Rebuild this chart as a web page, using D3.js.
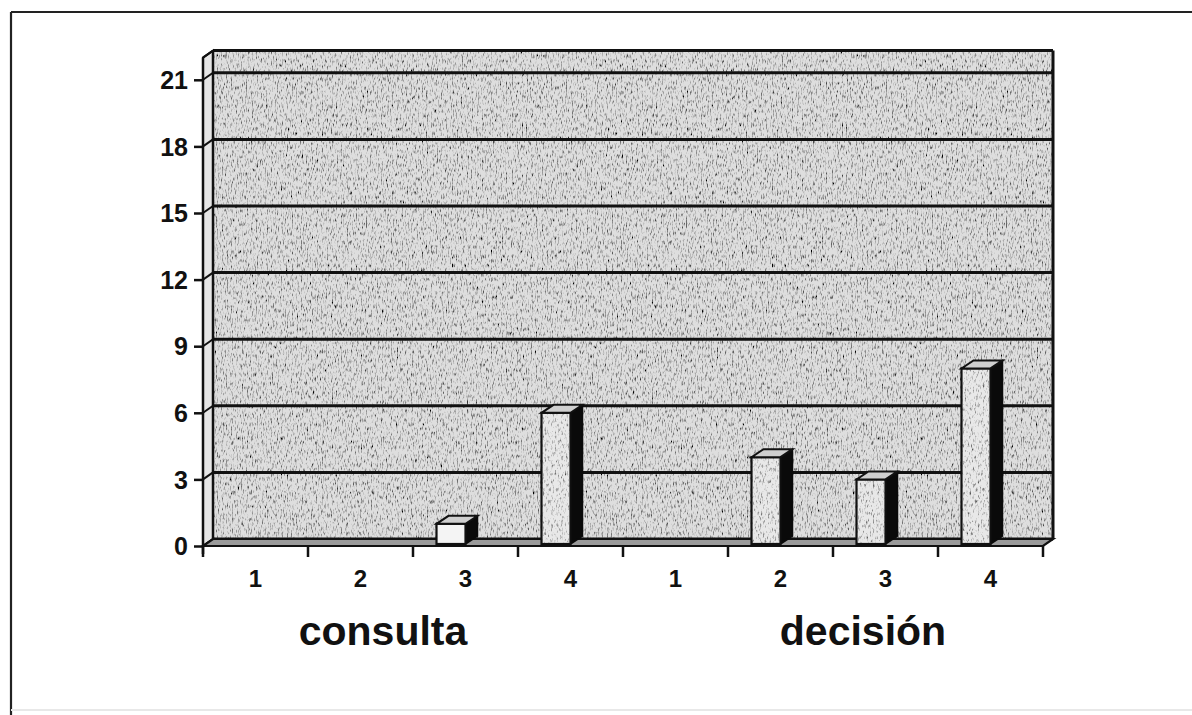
<!DOCTYPE html>
<html>
<head>
<meta charset="utf-8">
<script src="https://cdn.jsdelivr.net/npm/d3@7"></script>
<style>
  html, body { margin: 0; padding: 0; background: #fff; }
  svg { display: block; }
  text { font-family: "Liberation Sans", Arial, sans-serif; font-weight: bold; fill: #111; }
</style>
</head>
<body>
<svg id="chart" width="1192" height="715"></svg>
<script>
// Response counts per option, grouped by participation type
const groups = ["consulta", "decisión"];
const categories = ["1", "2", "3", "4"];
const consulta = [0, 0, 1, 6];
const decision = [0, 4, 3, 8];
const yTicks = [0, 3, 6, 9, 12, 15, 18, 21];
const yMax = 22;

const seriesByGroup = { "consulta": consulta, "decisión": decision };

// Flattened rows: one per (group, category)
const rows = [];
groups.forEach(g => categories.forEach((c, i) => rows.push({ group: g, cat: c, key: g + "-" + c, value: seriesByGroup[g][i] })));

const svg = d3.select("#chart");

// Plot geometry (front plane of the 3D box)
const left = 203, right = 1043, bottom = 546;
const depthX = 10, depthY = -7;      // wall depth offset
const barDX = 12, barDY = -8;        // bar side depth

const x = d3.scaleBand().domain(rows.map(r => r.key)).range([left, right]).padding(0);
const y = d3.scaleLinear().domain([0, yMax]).range([bottom, bottom - yMax * 22.2]);

// Grainy gray fill used on walls and bars
const defs = svg.append("defs");
function grain(id, seed, freq, gain, bias) {
  const f = defs.append("filter").attr("id", id)
    .attr("x", 0).attr("y", 0).attr("width", "100%").attr("height", "100%")
    .attr("filterUnits", "objectBoundingBox");
  f.append("feTurbulence").attr("type", "fractalNoise").attr("baseFrequency", freq)
    .attr("numOctaves", 2).attr("seed", seed).attr("result", "n");
  f.append("feColorMatrix").attr("in", "n").attr("type", "matrix")
    .attr("values", `0 0 0 0 0  0 0 0 0 0  0 0 0 0 0  ${-gain} 0 0 0 ${bias}`).attr("result", "spk");
  f.append("feComposite").attr("in", "spk").attr("in2", "SourceGraphic").attr("operator", "in").attr("result", "spk2");
  const m = f.append("feMerge");
  m.append("feMergeNode").attr("in", "SourceGraphic");
  m.append("feMergeNode").attr("in", "spk2");
}
grain("wallGrain", 4, "0.8 0.22", 3.0, 1.5);
grain("barGrain", 9, "0.6 0.25", 2.6, 1.25);

// Outer frame
svg.append("line").attr("x1", 11).attr("y1", 12).attr("x2", 1192).attr("y2", 12).attr("stroke", "#222").attr("stroke-width", 2.2);
svg.append("line").attr("x1", 11).attr("y1", 12).attr("x2", 11).attr("y2", 715).attr("stroke", "#222").attr("stroke-width", 2.2);
svg.append("line").attr("x1", 11).attr("y1", 710).attr("x2", 1192).attr("y2", 710).attr("stroke", "#e8e8e8").attr("stroke-width", 2);

const bx0 = left + depthX, bx1 = right + depthX;
const by = v => y(v) + depthY;

// Back wall
svg.append("rect").attr("x", bx0).attr("y", by(yMax)).attr("width", bx1 - bx0).attr("height", by(0) - by(yMax))
  .attr("fill", "#dedede").attr("filter", "url(#wallGrain)");

// Left side wall
svg.append("polygon")
  .attr("points", [[left, y(0)], [left, y(yMax)], [bx0, by(yMax)], [bx0, by(0)]].map(p => p.join(",")).join(" "))
  .attr("fill", "#e6e6e6").attr("stroke", "#111").attr("stroke-width", 2);

// Gridlines on back wall and their slant on the side wall
const grid = svg.append("g");
yTicks.concat([yMax]).forEach(t => {
  grid.append("line").attr("x1", bx0).attr("x2", bx1).attr("y1", by(t)).attr("y2", by(t))
    .attr("stroke", "#111").attr("stroke-width", 3);
  grid.append("line").attr("x1", left).attr("x2", bx0).attr("y1", y(t)).attr("y2", by(t))
    .attr("stroke", "#111").attr("stroke-width", 2);
});
// Back wall outline
svg.append("line").attr("x1", bx0).attr("x2", bx0).attr("y1", by(yMax)).attr("y2", by(0)).attr("stroke", "#111").attr("stroke-width", 2.5);
svg.append("line").attr("x1", bx1).attr("x2", bx1).attr("y1", by(yMax)).attr("y2", by(0)).attr("stroke", "#111").attr("stroke-width", 3);

// Floor
svg.append("polygon")
  .attr("points", [[left, y(0)], [right, y(0)], [bx1, by(0)], [bx0, by(0)]].map(p => p.join(",")).join(" "))
  .attr("fill", "#9a9a9a").attr("stroke", "#111").attr("stroke-width", 2.2);

// Bars (3D columns)
const barW = 29;
const bars = svg.append("g").selectAll("g").data(rows.filter(r => r.value > 0)).join("g");
bars.each(function (d) {
  const g = d3.select(this);
  const xr = x(d.key) + x.bandwidth() / 2;
  const xl = xr - barW;
  const yt = y(d.value), yb = y(0) - 2;
  // side face
  g.append("polygon")
    .attr("points", [[xr, yt], [xr + barDX, yt + barDY], [xr + barDX, yb + barDY], [xr, yb]].map(p => p.join(",")).join(" "))
    .attr("fill", "#0a0a0a").attr("stroke", "#0a0a0a").attr("stroke-width", 1.5);
  // front face
  g.append("rect").attr("x", xl).attr("y", yt).attr("width", barW).attr("height", yb - yt)
    .attr("fill", d.value > 1 ? "#e8e8e8" : "#f4f4f4")
    .attr("filter", d.value > 1 ? "url(#barGrain)" : null);
  g.append("rect").attr("x", xl).attr("y", yt).attr("width", barW).attr("height", yb - yt)
    .attr("fill", "none").attr("stroke", "#111").attr("stroke-width", 2.2);
  // top face
  g.append("polygon")
    .attr("points", [[xl, yt], [xr, yt], [xr + barDX, yt + barDY], [xl + barDX, yt + barDY]].map(p => p.join(",")).join(" "))
    .attr("fill", "#cfcfcf").attr("stroke", "#111").attr("stroke-width", 2);
});

// Y axis
const yAxis = svg.append("g").attr("transform", `translate(${left},0)`)
  .call(d3.axisLeft(y).tickValues(yTicks).tickSize(9).tickPadding(6).tickFormat(d3.format("d")));
yAxis.attr("font-size", 25).attr("font-family", "'Liberation Sans', Arial, sans-serif");
yAxis.select(".domain").attr("stroke", "#111").attr("stroke-width", 2.5)
  .attr("d", `M0,${y(0) + 8}V${y(yMax)}`);
yAxis.selectAll(".tick line").attr("stroke", "#111").attr("stroke-width", 2.5);
yAxis.selectAll(".tick text").style("font-size", "25px").attr("fill", "#111")
  .attr("font-weight", "bold").attr("dy", "0.35em");

// X axis: ticks at band boundaries, category numbers in the middle
const xAxisG = svg.append("g");
const boundaries = rows.map(r => x(r.key)).concat([right]);
xAxisG.selectAll("line").data(boundaries).join("line")
  .attr("x1", d => d).attr("x2", d => d).attr("y1", y(0)).attr("y2", y(0) + 11)
  .attr("stroke", "#111").attr("stroke-width", 2.5);
xAxisG.selectAll("text").data(rows).join("text")
  .attr("x", d => x(d.key) + x.bandwidth() / 2)
  .attr("y", 587)
  .attr("text-anchor", "middle").style("font-size", "24px")
  .text(d => d.cat);

// Group labels
const groupShift = { "consulta": -30, "decisión": 30 };
svg.append("g").selectAll("text").data(groups).join("text")
  .attr("x", g => {
    const keys = rows.filter(r => r.group === g).map(r => r.key);
    return (x(keys[0]) + x(keys[keys.length - 1]) + x.bandwidth()) / 2 + groupShift[g];
  })
  .attr("y", 645)
  .attr("text-anchor", "middle").style("font-size", "41px")
  .text(g => g);
</script>
</body>
</html>
